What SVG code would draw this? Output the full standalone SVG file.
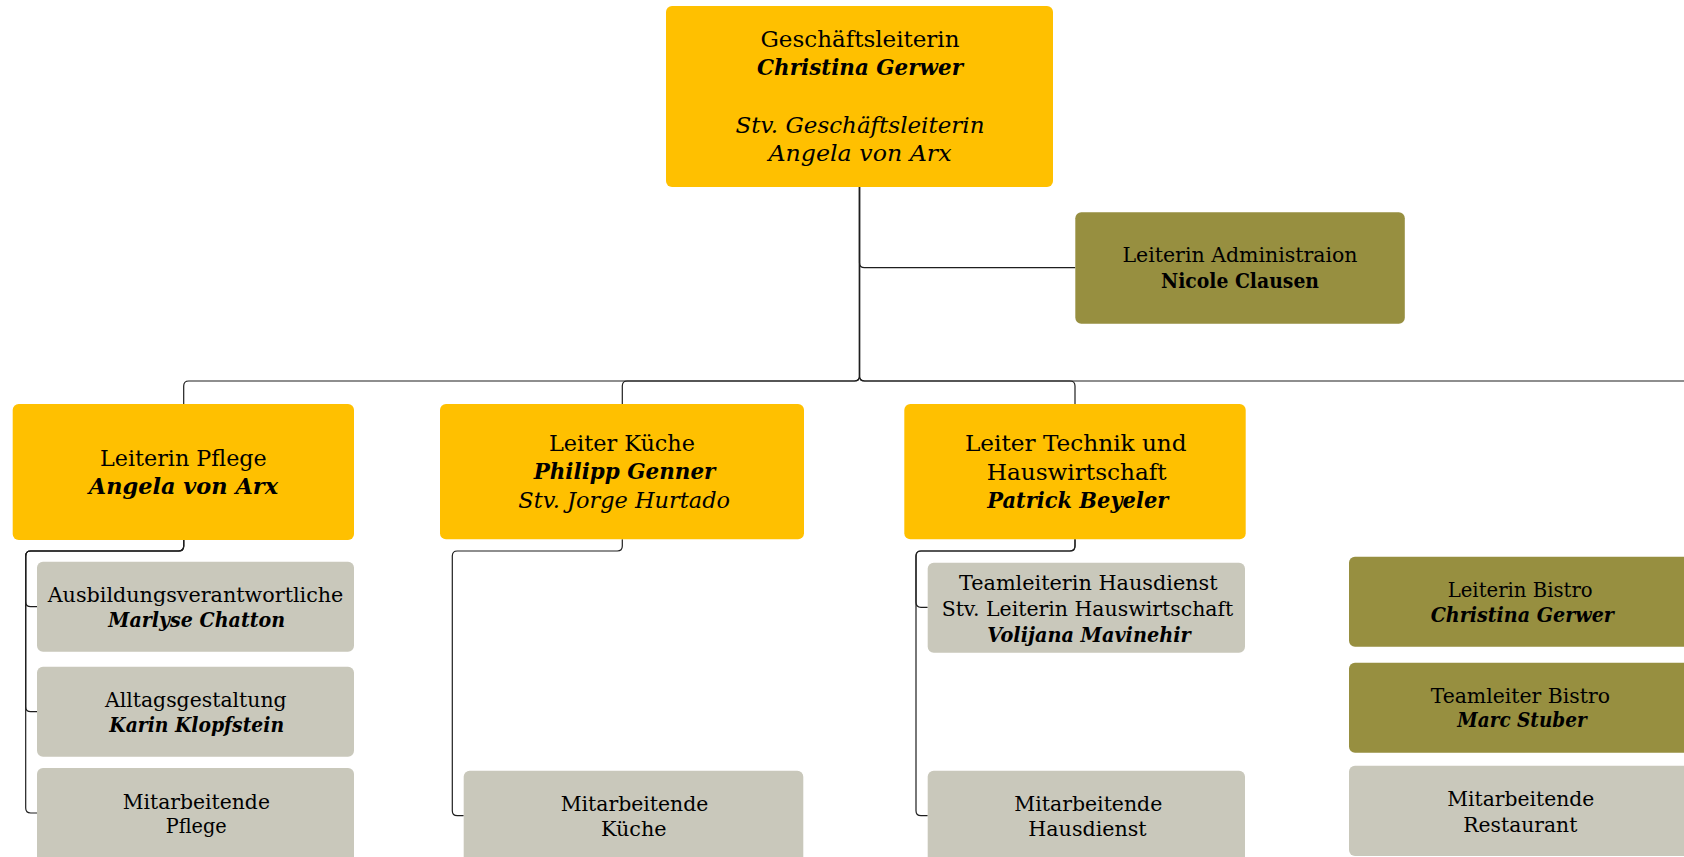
<svg xmlns="http://www.w3.org/2000/svg" width="1684" height="857" viewBox="0 0 1684 857">
<style>
.gold{fill:#FFC000}
.olive{fill:#978F40}
.gray{fill:#C9C8BB}
.t{font-family:"DejaVu Serif","Liberation Serif",serif;fill:#000;text-anchor:middle}
.l{font-size:23px}
.s{font-size:20.5px}
.b{font-weight:bold}
.i{font-style:italic}
.c{fill:none;stroke:#1e1e1e;stroke-width:1.2}
</style>
<rect width="1684" height="857" fill="#fff"/>
<g id="connectors">
<path class="c" d="M859.5,187 V262.7 Q859.5,267.7 864.5,267.7 H1075.3"/>
<path class="c" d="M859.5,187 V376 Q859.5,381 854.5,381 H188.7 Q183.7,381 183.7,386 V404"/>
<path class="c" d="M859.5,187 V376 Q859.5,381 854.5,381 H627.3 Q622.3,381 622.3,386 V404"/>
<path class="c" d="M859.5,187 V376 Q859.5,381 864.5,381 H1070 Q1075,381 1075,386 V404"/>
<path class="c" d="M859.5,187 V376 Q859.5,381 864.5,381 H1700"/>
<path class="c" d="M183.7,540 V546 Q183.7,551 178.7,551 H30.7 Q25.7,551 25.7,556 V601.7 Q25.7,606.7 30.7,606.7 H37"/>
<path class="c" d="M183.7,540 V546 Q183.7,551 178.7,551 H30.7 Q25.7,551 25.7,556 V706.7 Q25.7,711.7 30.7,711.7 H37"/>
<path class="c" d="M183.7,540 V546 Q183.7,551 178.7,551 H30.7 Q25.7,551 25.7,556 V808 Q25.7,813 30.7,813 H37"/>
<path class="c" d="M622.3,539.3 V546 Q622.3,551 617.3,551 H457.3 Q452.3,551 452.3,556 V810.7 Q452.3,815.7 457.3,815.7 H463.7"/>
<path class="c" d="M1075,539.3 V546 Q1075,551 1070,551 H921 Q916,551 916,556 V602.3 Q916,607.3 921,607.3 H927.7"/>
<path class="c" d="M1075,539.3 V546 Q1075,551 1070,551 H921 Q916,551 916,556 V810.7 Q916,815.7 921,815.7 H927.7"/>
</g>
<g id="n-gl">
<rect class="gold" x="666" y="6" width="387" height="181" rx="6"/>
<text class="t l" x="860" y="46.7" textLength="199" lengthAdjust="spacingAndGlyphs">Geschäftsleiterin</text>
<text class="t l b i" x="860" y="75.3" textLength="206" lengthAdjust="spacingAndGlyphs">Christina Gerwer</text>
<text class="t l i" x="860" y="132.7" textLength="249" lengthAdjust="spacingAndGlyphs">Stv. Geschäftsleiterin</text>
<text class="t l i" x="860" y="161.3" textLength="183" lengthAdjust="spacingAndGlyphs">Angela von Arx</text>
</g>
<g id="n-admin">
<rect class="olive" x="1075.3" y="212.3" width="329.5" height="111.4" rx="6"/>
<text class="t s" x="1240" y="261.7" textLength="235" lengthAdjust="spacingAndGlyphs">Leiterin Administraion</text>
<text class="t s b" x="1240" y="287.7" textLength="158" lengthAdjust="spacingAndGlyphs">Nicole Clausen</text>
</g>
<g id="n-pflege">
<rect class="gold" x="12.7" y="404" width="341.3" height="136" rx="6"/>
<text class="t l" x="183.4" y="466" textLength="166.7" lengthAdjust="spacingAndGlyphs">Leiterin Pflege</text>
<text class="t l b i" x="183.4" y="494.3" textLength="189.3" lengthAdjust="spacingAndGlyphs">Angela von Arx</text>
</g>
<g id="n-kueche">
<rect class="gold" x="440" y="404" width="364" height="135.3" rx="6"/>
<text class="t l" x="622" y="451" textLength="146" lengthAdjust="spacingAndGlyphs">Leiter Küche</text>
<text class="t l b i" x="624.5" y="479.3" textLength="181.7" lengthAdjust="spacingAndGlyphs">Philipp Genner</text>
<text class="t l i" x="624.2" y="508.3" textLength="211.7" lengthAdjust="spacingAndGlyphs">Stv. Jorge Hurtado</text>
</g>
<g id="n-technik">
<rect class="gold" x="904.3" y="404" width="341.4" height="135.3" rx="6"/>
<text class="t l" x="1075.8" y="451" textLength="221.7" lengthAdjust="spacingAndGlyphs">Leiter Technik und</text>
<text class="t l" x="1076.7" y="479.5" textLength="180" lengthAdjust="spacingAndGlyphs">Hauswirtschaft</text>
<text class="t l b i" x="1077.8" y="507.7" textLength="181" lengthAdjust="spacingAndGlyphs">Patrick Beyeler</text>
</g>
<g id="n-ausbildung">
<rect class="gray" x="37" y="561.7" width="317" height="90" rx="6"/>
<text class="t s" x="195.5" y="602.3" textLength="295.7" lengthAdjust="spacingAndGlyphs">Ausbildungsverantwortliche</text>
<text class="t s b i" x="196.7" y="627.3" textLength="176.7" lengthAdjust="spacingAndGlyphs">Marlyse Chatton</text>
</g>
<g id="n-alltag">
<rect class="gray" x="37" y="666.7" width="317" height="90" rx="6"/>
<text class="t s" x="195.8" y="706.7" textLength="181.7" lengthAdjust="spacingAndGlyphs">Alltagsgestaltung</text>
<text class="t s b i" x="196.7" y="731.7" textLength="174.7" lengthAdjust="spacingAndGlyphs">Karin Klopfstein</text>
</g>
<g id="n-ma-pflege">
<rect class="gray" x="37" y="768" width="317" height="95" rx="6"/>
<text class="t s" x="196.3" y="809" textLength="147.3" lengthAdjust="spacingAndGlyphs">Mitarbeitende</text>
<text class="t s" x="196.2" y="833.3" textLength="61" lengthAdjust="spacingAndGlyphs">Pflege</text>
</g>
<g id="n-ma-kueche">
<rect class="gray" x="463.7" y="770.7" width="339.6" height="95" rx="6"/>
<text class="t s" x="634.5" y="811" textLength="147.7" lengthAdjust="spacingAndGlyphs">Mitarbeitende</text>
<text class="t s" x="633.8" y="836" textLength="65.7" lengthAdjust="spacingAndGlyphs">Küche</text>
</g>
<g id="n-teamleiterin">
<rect class="gray" x="927.7" y="562.7" width="317.3" height="90" rx="6"/>
<text class="t s" x="1088.3" y="590" textLength="258.7" lengthAdjust="spacingAndGlyphs">Teamleiterin Hausdienst</text>
<text class="t s" x="1087.5" y="616" textLength="291.7" lengthAdjust="spacingAndGlyphs">Stv. Leiterin Hauswirtschaft</text>
<text class="t s b i" x="1089" y="641.7" textLength="203.3" lengthAdjust="spacingAndGlyphs">Volijana Mavinehir</text>
</g>
<g id="n-ma-hausdienst">
<rect class="gray" x="927.7" y="770.7" width="317.3" height="95" rx="6"/>
<text class="t s" x="1088.3" y="811" textLength="148" lengthAdjust="spacingAndGlyphs">Mitarbeitende</text>
<text class="t s" x="1087.5" y="836" textLength="118.3" lengthAdjust="spacingAndGlyphs">Hausdienst</text>
</g>
<g id="n-bistro">
<rect class="olive" x="1349" y="556.7" width="342" height="90" rx="6"/>
<text class="t s" x="1520.2" y="597.3" textLength="145" lengthAdjust="spacingAndGlyphs">Leiterin Bistro</text>
<text class="t s b i" x="1522.3" y="621.7" textLength="183.3" lengthAdjust="spacingAndGlyphs">Christina Gerwer</text>
</g>
<g id="n-teamleiter-bistro">
<rect class="olive" x="1349" y="662.7" width="342" height="90" rx="6"/>
<text class="t s" x="1520.3" y="702.7" textLength="179.3" lengthAdjust="spacingAndGlyphs">Teamleiter Bistro</text>
<text class="t s b i" x="1522" y="727.3" textLength="129.3" lengthAdjust="spacingAndGlyphs">Marc Stuber</text>
</g>
<g id="n-ma-restaurant">
<rect class="gray" x="1349" y="765.7" width="342" height="90.3" rx="6"/>
<text class="t s" x="1520.8" y="805.7" textLength="147" lengthAdjust="spacingAndGlyphs">Mitarbeitende</text>
<text class="t s" x="1520.3" y="831.7" textLength="114" lengthAdjust="spacingAndGlyphs">Restaurant</text>
</g>
</svg>
